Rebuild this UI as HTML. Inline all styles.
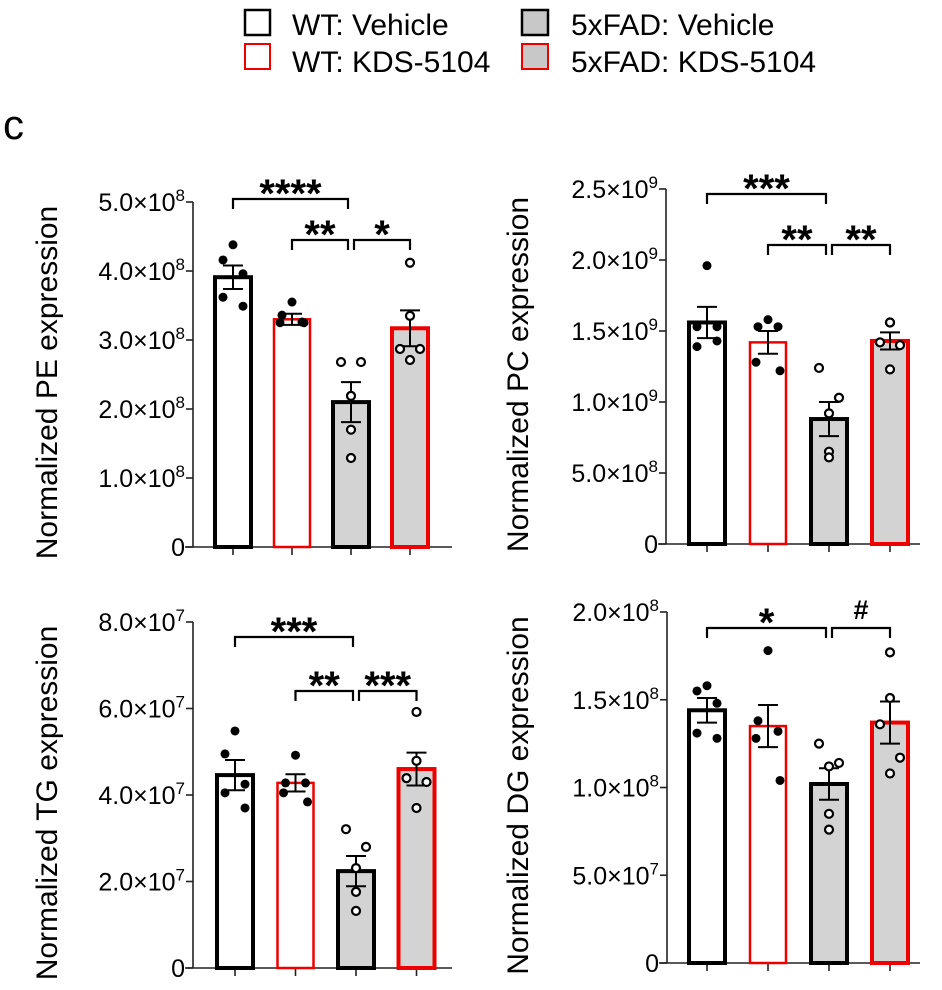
<!DOCTYPE html>
<html><head><meta charset="utf-8">
<style>
html,body{margin:0;padding:0;background:#fff;}
svg{display:block;font-family:"Liberation Sans",Arial,sans-serif;}
</style></head>
<body>
<svg id="fig" width="942" height="990" viewBox="0 0 942 990" xmlns="http://www.w3.org/2000/svg">
  <g>
    <rect x="245" y="10" width="25" height="25" fill="#fff" stroke="#000" stroke-width="2.5"/>
    <text x="292" y="35" font-size="30">WT: Vehicle</text>
    <rect x="245" y="44" width="25" height="25" fill="#fff" stroke="#e00" stroke-width="2"/>
    <text x="292" y="72" font-size="30">WT: KDS-5104</text>
    <rect x="522" y="10" width="26" height="25" fill="#c8c8c8" stroke="#000" stroke-width="2.5"/>
    <text x="571" y="35" font-size="30">5xFAD: Vehicle</text>
    <rect x="522" y="44" width="26" height="25" fill="#c8c8c8" stroke="#e00" stroke-width="2"/>
    <text x="571" y="72" font-size="30">5xFAD: KDS-5104</text>
  </g>
  <text x="3" y="139" font-size="42">c</text>
</svg>
<script>
// ---- data (values in units of the axis exponent) ----
var groups = ["WT: Vehicle","WT: KDS-5104","5xFAD: Vehicle","5xFAD: KDS-5104"];
// PE (x1e8)
var peMeans = [3.91, 3.30, 2.10, 3.17];
var peSem = [0.17, 0.08, 0.29, 0.26];
var pePoints = [[4.38,4.16,3.96,3.62,3.49],[3.55,3.36,3.26,3.25,3.25],[2.68,2.68,2.19,1.70,1.29],[4.12,3.35,2.87,2.87,2.71]];
var peTicks = [0,1,2,3,4,5];
var peSig = [["****",0,2],["**",1,2],["*",2,3]];
// PC (x1e9)
var pcMeans = [1.56, 1.42, 0.88, 1.43];
var pcSem = [0.11, 0.08, 0.12, 0.06];
var pcPoints = [[1.96,1.53,1.53,1.39,1.43],[1.58,1.53,1.53,1.28,1.22],[1.24,1.03,0.92,0.65,0.61],[1.56,1.56,1.42,1.40,1.23]];
var pcTicks = [0,0.5,1.0,1.5,2.0,2.5];
var pcSig = [["***",0,2],["**",1,2],["**",2,3]];
// TG (x1e7)
var tgMeans = [4.46, 4.28, 2.24, 4.60];
var tgSem = [0.35, 0.20, 0.35, 0.38];
var tgPoints = [[5.48,4.95,4.25,4.05,3.70],[4.92,4.28,4.28,4.05,3.84],[3.21,2.80,2.31,1.76,1.32],[5.92,4.79,4.39,4.30,3.70]];
var tgTicks = [0,2,4,6,8];
var tgSig = [["***",0,2],["**",1,2],["***",2,3]];
// DG (x1e8)
var dgMeans = [1.44, 1.35, 1.02, 1.37];
var dgSem = [0.07, 0.12, 0.09, 0.12];
var dgPoints = [[1.58,1.55,1.48,1.31,1.28],[1.78,1.38,1.32,1.28,1.04],[1.25,1.14,1.12,0.85,0.76],[1.77,1.51,1.36,1.17,1.08]];
var dgTicks = [0,0.5,1.0,1.5,2.0];
var dgSig = [["*",0,2],["#",2,3]];

var NS = "http://www.w3.org/2000/svg";
var svg = document.getElementById("fig");
function mk(tag, attrs, parent){
  var e = document.createElementNS(NS, tag);
  for (var k in attrs) e.setAttribute(k, attrs[k]);
  (parent||svg).appendChild(e);
  return e;
}
var jitter = [[0,-10,10,-10,10],[0,-10,10,-12,12],[-10,10,0,0,0],[0,0,-10,10,0]];
var fills = ["#fff","#fff","#d3d3d3","#d3d3d3"];
var strokes = ["#000","#e00","#000","#e00"];
var sw = [4,2.5,4,4];

function panel(cfg){
  var g = mk("g", {});
  
  
  var tmax = cfg.ticks[cfg.ticks.length-1];
  function ys(v){ return cfg.y0 - (v/tmax)*(cfg.y0-cfg.yTop); }
  function xs(i){ return cfg.bx0 + i*cfg.bstep; }
  var t = mk("text", {x:0,y:0,"font-size":30,"text-anchor":"middle",transform:"translate("+cfg.titleX+","+((cfg.y0+cfg.yTop)/2+8)+") rotate(-90)"}, g);
  t.textContent = cfg.title;
  
  
  var ya = mk("line", {x1:cfg.ax,y1:cfg.yTop,x2:cfg.ax,y2:cfg.y0,stroke:"#222","stroke-width":1.6}, g);
  
  
  var xa = mk("line", {x1:cfg.ax-8,y1:cfg.y0,x2:cfg.xEnd,y2:cfg.y0,stroke:"#222","stroke-width":1.6}, g);
  
  
  cfg.ticks.forEach(function(v){
    var y = ys(v);
    mk("line",{x1:cfg.ax-7,y1:y,x2:cfg.ax,y2:y,stroke:"#222","stroke-width":1.6},g);
    var lab = mk("text",{x:cfg.ax-8,y:y+9,"font-size":25,"text-anchor":"end"},g);
    
    
    if (v===0){ lab.textContent="0"; return; }
    var exp = cfg.exp, m = v;
    if (m < 1){ m = m*10; exp = exp-1; }
    var ts = mk("tspan",{},lab); ts.textContent = m.toFixed(1)+"×10";
    var sp = mk("tspan",{dy:-10,"font-size":17},lab); sp.textContent = String(exp);
  });
  for (var i=0;i<4;i++){
    mk("line",{x1:xs(i),y1:cfg.y0,x2:xs(i),y2:cfg.y0+8,stroke:"#222","stroke-width":1.6},g);
    var top = ys(cfg.means[i]);
    var b = mk("rect",{x:xs(i)-18,y:top,width:36,height:cfg.y0-top,fill:fills[i],stroke:strokes[i],"stroke-width":sw[i]},g);
    
    
    var up = ys(cfg.means[i]+cfg.sem[i]), lo = ys(cfg.means[i]-cfg.sem[i]);
    var eb = mk("path",{d:"M"+xs(i)+" "+up+"V"+lo+"M"+(xs(i)-10)+" "+up+"H"+(xs(i)+10)+"M"+(xs(i)-10)+" "+lo+"H"+(xs(i)+10),stroke:"#000","stroke-width":2,fill:"none"},g);
    
    
    cfg.points[i].forEach(function(p,j){
      var open = i>=2;
      var c = mk("circle",{cx:xs(i)+jitter[i][j],cy:ys(p),r:open?4:4.5,fill:open?"#fff":"#000",stroke:"#000","stroke-width":open?2.2:0},g);
      
      
    });
  }
  cfg.sig.forEach(function(s,k){
    var y = cfg.sigY[k];
    var x1 = xs(s[1]) + (s[1]===2?3:0), x2 = xs(s[2]) - (s[2]===2?3:0);
    var br = mk("path",{d:"M"+x1+" "+(y+10)+"V"+y+"H"+x2+"V"+(y+10),stroke:"#000","stroke-width":2.2,fill:"none"},g);
    
    
    var st = mk("text",{x:(x1+x2)/2,y:y-(s[0]==="#"?9:-8),"font-size":s[0]==="#"?27:40,"font-weight":"bold","text-anchor":"middle"},g);
    st.textContent = s[0];
    
    
  });
}
panel({name:"pe",title:"Normalized PE expression",titleX:57,ax:193,y0:547,yTop:202,xEnd:452,bx0:233,bstep:59,exp:8,
  ticks:peTicks,means:peMeans,sem:peSem,points:pePoints,sig:peSig,sigY:[199,240,240]});
panel({name:"pc",title:"Normalized PC expression",titleX:528,ax:666,y0:544,yTop:189,xEnd:920,bx0:707,bstep:61,exp:9,
  ticks:pcTicks,means:pcMeans,sem:pcSem,points:pcPoints,sig:pcSig,sigY:[194,245,245]});
panel({name:"tg",title:"Normalized TG expression",titleX:57,ax:193,y0:968,yTop:622,xEnd:452,bx0:235,bstep:60.5,exp:7,
  ticks:tgTicks,means:tgMeans,sem:tgSem,points:tgPoints,sig:tgSig,sigY:[637,691,691]});
panel({name:"dg",title:"Normalized DG expression",titleX:528,ax:667,y0:963,yTop:612,xEnd:920,bx0:707,bstep:61,exp:8,
  ticks:dgTicks,means:dgMeans,sem:dgSem,points:dgPoints,sig:dgSig,sigY:[628,628]});
</script>
</body></html>
